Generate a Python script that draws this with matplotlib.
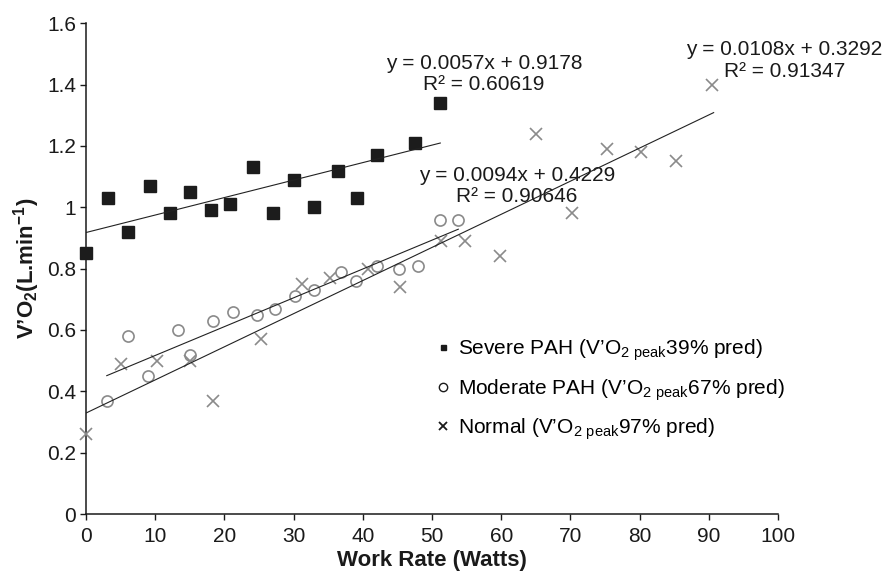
import matplotlib
matplotlib.use("Agg")
import matplotlib.pyplot as plt
from matplotlib.lines import Line2D

plt.rcParams['font.family'] = ['Liberation Sans', 'DejaVu Sans']
plt.rcParams['mathtext.fontset'] = 'custom'
plt.rcParams['mathtext.rm'] = 'Liberation Sans'
plt.rcParams['mathtext.bf'] = 'Liberation Sans:bold'

# ---- data ----
severe_x = [0, 3.2, 6.0, 9.2, 12.2, 15.0, 18.1, 20.8, 24.2, 27.0, 30.0, 33.0, 36.4, 39.2, 42.0, 47.5, 51.1]
severe_y = [0.85, 1.03, 0.92, 1.07, 0.98, 1.05, 0.99, 1.01, 1.13, 0.98, 1.09, 1.00, 1.12, 1.03, 1.17, 1.21, 1.34]

moderate_x = [3.1, 6.1, 9.0, 13.3, 15.0, 18.3, 21.3, 24.7, 27.3, 30.2, 33.0, 36.8, 39.0, 42.1, 45.3, 48.0, 51.2, 53.8]
moderate_y = [0.37, 0.58, 0.45, 0.60, 0.52, 0.63, 0.66, 0.65, 0.67, 0.71, 0.73, 0.79, 0.76, 0.81, 0.80, 0.81, 0.96, 0.96]

normal_x = [0, 5.0, 10.3, 15.0, 18.3, 25.3, 31.2, 35.2, 40.7, 45.4, 51.3, 54.7, 59.8, 65.1, 70.3, 75.3, 80.2, 85.3, 90.5]
normal_y = [0.26, 0.49, 0.50, 0.50, 0.37, 0.57, 0.75, 0.77, 0.80, 0.74, 0.89, 0.89, 0.84, 1.24, 0.98, 1.19, 1.18, 1.15, 1.40]

# trendlines: slope, intercept, x range
severe_fit = (0.0057, 0.9178, 0, 51.2)
moderate_fit = (0.0094, 0.4229, 3.0, 53.8)
normal_fit = (0.0108, 0.3292, 0, 90.7)

severe_eq = ("y = 0.0057x + 0.9178", "R² = 0.60619")
moderate_eq = ("y = 0.0094x + 0.4229", "R² = 0.90646")
normal_eq = ("y = 0.0108x + 0.3292", "R² = 0.91347")

legend_labels = [
    r"Severe PAH (V’O$_{\mathregular{2\ peak}}$39% pred)",
    r"Moderate PAH (V’O$_{\mathregular{2\ peak}}$67% pred)",
    r"Normal (V’O$_{\mathregular{2\ peak}}$97% pred)",
]

x_ticks = [0, 10, 20, 30, 40, 50, 60, 70, 80, 90, 100]
y_ticks = [0, 0.2, 0.4, 0.6, 0.8, 1.0, 1.2, 1.4, 1.6]
y_tick_labels = ["0", "0.2", "0.4", "0.6", "0.8", "1", "1.2", "1.4", "1.6"]

# ---- figure ----
fig = plt.figure(figsize=(8.87, 5.71), dpi=100)
ax = fig.add_axes([86/887, (571-514)/571, (778-86)/887, (514-23.3)/571])

FS = 15
gray = '#8a8a8a'

ax.plot(severe_x, severe_y, linestyle='none', marker='s', markersize=8.6,
        color='#1c1c1c', clip_on=False, zorder=3)
ax.plot(moderate_x, moderate_y, linestyle='none', marker='o', markersize=8.0,
        markerfacecolor='none', markeredgecolor=gray, markeredgewidth=1.2,
        clip_on=False, zorder=3)
ax.plot(normal_x, normal_y, linestyle='none', marker='x', markersize=8.5,
        color=gray, markeredgewidth=1.2, clip_on=False, zorder=3)

for m, b, x0, x1 in (severe_fit, moderate_fit, normal_fit):
    ax.plot([x0, x1], [m*x0 + b, m*x1 + b], color='#222222', lw=0.8, zorder=4)

def eq_label(lines, x, y1, y2):
    ax.text(x, y1, lines[0], ha='center', va='center', fontsize=FS, color='#1a1a1a')
    ax.text(x, y2, lines[1], ha='center', va='center', fontsize=FS, color='#1a1a1a')

eq_label(severe_eq, 57.5, 1.469, 1.402)
eq_label(moderate_eq, 62.3, 1.105, 1.035)
eq_label(normal_eq, 100.9, 1.513, 1.442)

ax.set_xlim(0, 100)
ax.set_ylim(0, 1.6)
ax.set_xticks(x_ticks)
ax.set_xticklabels([str(t) for t in x_ticks])
ax.set_yticks(y_ticks)
ax.set_yticklabels(y_tick_labels)
ax.tick_params(axis='both', direction='out', length=4, width=1, labelsize=FS,
               colors='#1a1a1a')
ax.tick_params(axis='x', pad=5)
ax.tick_params(axis='y', pad=3)
for s in ('top', 'right'):
    ax.spines[s].set_visible(False)
for s in ('left', 'bottom'):
    ax.spines[s].set_linewidth(1.1)
    ax.spines[s].set_color('#1a1a1a')

ax.set_xlabel("Work Rate (Watts)", fontsize=16, fontweight='bold', labelpad=3, color='#1a1a1a')
ax.set_ylabel(r"V’O$_\mathregular{2}$(L.min$^\mathregular{-1}$)", fontsize=16,
              fontweight='bold', labelpad=4, color='#1a1a1a')

handles = [
    Line2D([], [], linestyle='none', marker='s', markersize=3.6, color='#1a1a1a'),
    Line2D([], [], linestyle='none', marker='o', markersize=6.0, markerfacecolor='none',
           markeredgecolor='#1a1a1a', markeredgewidth=1.0),
    Line2D([], [], linestyle='none', marker='x', markersize=6.0, color='#1a1a1a',
           markeredgewidth=1.3),
]
ax.legend(handles, legend_labels, loc='center left', bbox_to_anchor=(0.507, 0.253),
          frameon=False, fontsize=FS, handlelength=0.6, handletextpad=0.4,
          labelspacing=0.66, borderpad=0, borderaxespad=0)

fig.savefig("out.png", dpi=100)
